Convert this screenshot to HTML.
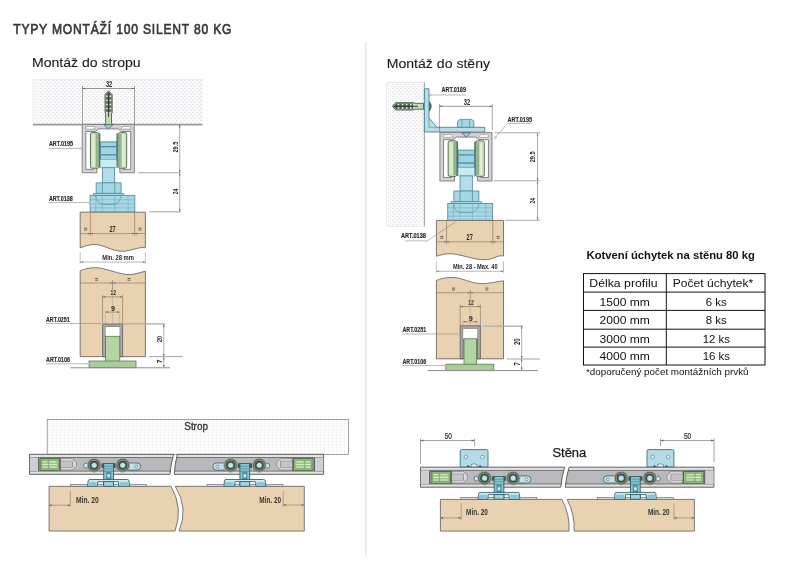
<!DOCTYPE html>
<html><head><meta charset="utf-8">
<style>
html,body{margin:0;padding:0;background:#fff;width:800px;height:572px;overflow:hidden}
svg{display:block;font-family:"Liberation Sans",sans-serif;will-change:transform}
</style></head><body>
<svg width="800" height="572" viewBox="0 0 800 572">
<defs>
<pattern id="dots" width="4" height="4" patternUnits="userSpaceOnUse">
<rect width="4" height="4" fill="#fbfbfb"/>
<rect x="0" y="0" width="1.2" height="1" fill="#e0e0e4"/>
<rect x="2" y="2" width="1.2" height="1" fill="#e0e0e4"/>
</pattern>
<pattern id="grid" width="4" height="3" patternUnits="userSpaceOnUse">
<rect width="4" height="3" fill="#fcfcfc"/>
<rect x="0" y="0" width="1" height="1" fill="#eaeaea"/>
</pattern>
</defs>
<text transform="scale(0.84,1)" x="15.71" y="33.7" font-size="14.4" fill="#3a3a3a" stroke="#3a3a3a" stroke-width="0.7" textLength="259.88" lengthAdjust="spacing">TYPY MONTÁŽÍ 100 SILENT 80 KG</text>
<text x="32.0" y="66.6" font-size="12" fill="#1a1a1a" textLength="108.6" lengthAdjust="spacingAndGlyphs" stroke="#1a1a1a" stroke-width="0.1">Montáž do stropu</text>
<text x="386.7" y="67.8" font-size="12" fill="#1a1a1a" textLength="103.4" lengthAdjust="spacingAndGlyphs" stroke="#1a1a1a" stroke-width="0.1">Montáž do stěny</text>
<line x1="365.8" y1="41.5" x2="365.8" y2="556" stroke="#e2e2e2" stroke-width="1.2"/>
<!-- LEFT TOP -->
<rect x="33" y="79.5" width="169" height="45" fill="url(#dots)" stroke="#e4e4e4" stroke-width="0.6"/>
<line x1="33" y1="124.6" x2="202.5" y2="124.6" stroke="#999999" stroke-width="1.6"/>
<line x1="82.5" y1="86" x2="82.5" y2="124" stroke="#666" stroke-width="0.6"/><line x1="134.5" y1="86" x2="134.5" y2="124" stroke="#666" stroke-width="0.6"/><line x1="82.5" y1="88.5" x2="134.5" y2="88.5" stroke="#555" stroke-width="0.6"/>
<path d="M82.5,88.5 l2.6,-0.8 v1.6z" fill="#555"/><path d="M134.5,88.5 l-2.6,-0.8 v1.6z" fill="#555"/>
<text x="109" y="86.5" font-size="8.8" font-weight="bold" fill="#262626" text-anchor="middle" textLength="6.2" lengthAdjust="spacingAndGlyphs">32</text>
<path d="M108.6,90.8 L112.2,94.5 V112 L111.5,114 V123 L113.5,125.5 H103.7 L105.7,123 V114 L105,112 V94.5 Z" fill="#c5dcb5" stroke="#3d4d3b" stroke-width="0.8"/>
<path d="M108.6,91.6 L111.6,94.8 V111.8 H105.6 V94.8 Z" fill="#56685a"/>
<circle cx="106.9" cy="96.2" r="0.9" fill="#e6efe2"/><circle cx="110.3" cy="96.2" r="0.9" fill="#e6efe2"/>
<circle cx="106.9" cy="100.4" r="0.9" fill="#e6efe2"/><circle cx="110.3" cy="100.4" r="0.9" fill="#e6efe2"/>
<circle cx="106.9" cy="104.5" r="0.9" fill="#e6efe2"/><circle cx="110.3" cy="104.5" r="0.9" fill="#e6efe2"/>
<circle cx="106.9" cy="108.6" r="0.9" fill="#e6efe2"/><circle cx="110.3" cy="108.6" r="0.9" fill="#e6efe2"/>
<line x1="108.6" y1="93.5" x2="108.6" y2="117" stroke="#263026" stroke-width="0.9"/>
<g transform="translate(108.25,124.4)">
<path d="M-26.05,0 H26.05 V48.4 H11.6 V41.1 H14.8 V44.9 H22.5 V7.1 H13 L9.8,4.5 H-9.6 L-12.8,7.1 H-22.4 V44.9 H-14.6 V41.1 H-11.4 V48.4 H-26.05 Z" fill="#d3d3d3" stroke="#7a7a7a" stroke-width="0.9"/>
<path d="M-22.3,2 H-14.6 L-12.6,4.7 H-22.3 Z M22.4,2 H14.7 L12.7,4.7 H22.4 Z" fill="#fff" stroke="#8a8a8a" stroke-width="0.6"/>
<path d="M-4.3,0.2 H4.7 L0.2,4.5 Z" fill="#9fd0dc" stroke="#35505a" stroke-width="0.7"/>
<rect x="-17.8" y="8.2" width="8.6" height="35.6" rx="1.6" fill="#cfe3c0" stroke="#4d6649" stroke-width="0.9"/>
<rect x="-12.600000000000001" y="9.5" width="3" height="33" fill="#93b28d"/>
<rect x="-15.600000000000001" y="10" width="1.8" height="32" fill="#e2efd8"/>
<rect x="9.8" y="8.2" width="8.6" height="35.6" rx="1.6" fill="#cfe3c0" stroke="#4d6649" stroke-width="0.9"/>
<rect x="10.200000000000001" y="9.5" width="3" height="33" fill="#93b28d"/>
<rect x="14.200000000000001" y="10" width="1.8" height="32" fill="#e2efd8"/>
<rect x="-9.3" y="9" width="1.4" height="34" fill="#4f7566"/>
<rect x="8.2" y="9" width="1.4" height="34" fill="#4f7566"/>
<rect x="-7.8" y="17.5" width="16.2" height="17.6" fill="#9fd2e2" stroke="#3f7d8c" stroke-width="0.8"/>
<rect x="-7.8" y="21.6" width="16.2" height="1.3" fill="#4f8d9c"/>
<rect x="-7.8" y="29.8" width="16.2" height="1.3" fill="#4f8d9c"/>
<rect x="-7.8" y="35.1" width="16.2" height="8.2" fill="#c9ecf3" stroke="#7fb2be" stroke-width="0.6"/>
<rect x="-5.9" y="43.3" width="12.3" height="15.2" fill="#b4dde9" stroke="#4a8696" stroke-width="0.8"/>
<path d="M-12.1,58.4 H12.9 V68.9 H-12.1 Z" fill="#a5d6e4" stroke="#4a8696" stroke-width="0.8"/>
<line x1="-5.9" y1="58.4" x2="-5.9" y2="68.9" stroke="#4a8696" stroke-width="0.7"/><line x1="6.5" y1="58.4" x2="6.5" y2="68.9" stroke="#4a8696" stroke-width="0.7"/>
<rect x="-14.8" y="68.9" width="30.4" height="2" fill="#a5d6e4" stroke="#4a8696" stroke-width="0.6"/>
<rect x="-18.2" y="70.9" width="44.8" height="16.8" fill="#a8d8e6" stroke="#4a8696" stroke-width="0.8"/>
<line x1="-18.2" y1="75.3" x2="26.6" y2="75.3" stroke="#72aebd" stroke-width="0.6"/>
<line x1="-18.2" y1="79.3" x2="26.6" y2="79.3" stroke="#72aebd" stroke-width="0.6"/>
<line x1="-18.2" y1="83.5" x2="26.6" y2="83.5" stroke="#72aebd" stroke-width="0.6"/>
<line x1="-12.5" y1="70.9" x2="-12.5" y2="87.7" stroke="#72aebd" stroke-width="0.6"/>
<line x1="-5.9" y1="70.9" x2="-5.9" y2="87.7" stroke="#72aebd" stroke-width="0.6"/>
<line x1="6.5" y1="70.9" x2="6.5" y2="87.7" stroke="#72aebd" stroke-width="0.6"/>
<line x1="19.8" y1="70.9" x2="19.8" y2="87.7" stroke="#72aebd" stroke-width="0.6"/>
<path d="M-12.5,70.9 Q-12,78 -6,80 H6 Q12,78 13,70.9" fill="none" stroke="#4a8696" stroke-width="0.6"/>
</g>
<path d="M80.2,212.2 H145.4 V247.8 C139.4,246.3 130.6,251.3 122.6,251.3 C111.6,251.3 103.5,244.4 94.5,244.4 C88.5,244.4 84.2,246.8 80.2,247.8 Z" fill="#e9d2b2" stroke="#6f6a64" stroke-width="0.9"/>
<line x1="90.4" y1="212.7" x2="90.4" y2="236.1" stroke="#7d6e5c" stroke-width="0.6"/><line x1="134.70000000000002" y1="212.7" x2="134.70000000000002" y2="236.1" stroke="#7d6e5c" stroke-width="0.6"/>
<line x1="80.2" y1="233.6" x2="145.4" y2="233.6" stroke="#7d6e5c" stroke-width="0.6"/>
<path d="M90.4,233.6 l2.6,-0.8 v1.6z" fill="#7d6e5c"/><path d="M134.70000000000002,233.6 l-2.6,-0.8 v1.6z" fill="#7d6e5c"/><path d="M90.4,233.6 l-2.6,-0.8 v1.6z" fill="#7d6e5c"/><path d="M134.70000000000002,233.6 l2.6,-0.8 v1.6z" fill="#7d6e5c"/>
<text x="112.55000000000001" y="231.7" font-size="8.2" font-weight="bold" fill="#262626" text-anchor="middle" textLength="6.2" lengthAdjust="spacingAndGlyphs">27</text>
<path d="M84.10000000000001,228.2 h3 M84.10000000000001,230.0 h3" stroke="#4a4036" stroke-width="0.8"/><path d="M138.55,228.2 h3 M138.55,230.0 h3" stroke="#4a4036" stroke-width="0.8"/>
<line x1="80.2" y1="252.10000000000002" x2="80.2" y2="263.6" stroke="#9a9a9a" stroke-width="0.6"/><line x1="145.4" y1="252.10000000000002" x2="145.4" y2="263.6" stroke="#9a9a9a" stroke-width="0.6"/>
<line x1="80.2" y1="262.1" x2="145.4" y2="262.1" stroke="#8a8a8a" stroke-width="0.6"/>
<path d="M80.2,262.1 l2.6,-0.8 v1.6z" fill="#777"/><path d="M145.4,262.1 l-2.6,-0.8 v1.6z" fill="#777"/>
<text x="118.10000000000001" y="260.0" font-size="7.4" font-weight="bold" fill="#262626" text-anchor="middle" textLength="31.5" lengthAdjust="spacingAndGlyphs">Min. 28 mm</text>
<path d="M80.2,270.7 C84.2,269.2 88.5,267.7 95.5,267.7 C105.5,267.7 118.5,274.6 129.5,274.6 C135.5,274.6 141.4,271.8 145.4,271.3 V356.7 H80.2 Z" fill="#e9d2b2" stroke="#6f6a64" stroke-width="0.9"/>
<line x1="80.2" y1="283.0" x2="145.4" y2="283.0" stroke="#7d6e5c" stroke-width="0.6"/>
<line x1="112.6" y1="280.0" x2="112.6" y2="290.0" stroke="#7d6e5c" stroke-width="0.6"/>
<path d="M112.6,283.0 l2.6,-0.8 v1.6z" fill="#7d6e5c"/><path d="M112.6,283.0 l-2.6,-0.8 v1.6z" fill="#7d6e5c"/>
<path d="M95.10000000000001,278.40000000000003 h3 M95.10000000000001,280.2 h3" stroke="#4a4036" stroke-width="0.8"/><path d="M127.5,278.40000000000003 h3 M127.5,280.2 h3" stroke="#4a4036" stroke-width="0.8"/>
<line x1="102.6" y1="296.9" x2="122.6" y2="296.9" stroke="#7d6e5c" stroke-width="0.6"/>
<path d="M102.6,296.9 l2.6,-0.8 v1.6z" fill="#7d6e5c"/><path d="M122.6,296.9 l-2.6,-0.8 v1.6z" fill="#7d6e5c"/>
<line x1="102.6" y1="294.9" x2="102.6" y2="324.0" stroke="#7d6e5c" stroke-width="0.6"/><line x1="122.6" y1="294.9" x2="122.6" y2="324.0" stroke="#7d6e5c" stroke-width="0.6"/>
<text x="113.3" y="294.9" font-size="7.9" font-weight="bold" fill="#262626" text-anchor="middle" textLength="5.6" lengthAdjust="spacingAndGlyphs">12</text>
<line x1="105.39999999999999" y1="312.09999999999997" x2="119.6" y2="312.09999999999997" stroke="#7d6e5c" stroke-width="0.6"/>
<path d="M105.39999999999999,312.09999999999997 l2.6,-0.8 v1.6z" fill="#7d6e5c"/><path d="M119.6,312.09999999999997 l-2.6,-0.8 v1.6z" fill="#7d6e5c"/>
<line x1="105.39999999999999" y1="310.59999999999997" x2="105.39999999999999" y2="324.0" stroke="#b0a290" stroke-width="0.5"/><line x1="119.6" y1="310.59999999999997" x2="119.6" y2="324.0" stroke="#b0a290" stroke-width="0.5"/>
<line x1="112.6" y1="290.0" x2="112.6" y2="324.0" stroke="#b0a290" stroke-width="0.5"/>
<text x="113.0" y="310.79999999999995" font-size="7.9" font-weight="bold" fill="#262626" text-anchor="middle" textLength="4.0" lengthAdjust="spacingAndGlyphs">9</text>
<path d="M102.6,356.7 V324.0 H122.6 V356.7 H119.6 V327.0 H105.6 V356.7 Z" fill="#a8a8a8" stroke="#5a5a5a" stroke-width="0.8"/>
<rect x="105.6" y="327.0" width="14.0" height="9.300000000000011" fill="#fff"/>
<rect x="105.6" y="336.3" width="14.200000000000003" height="25.19999999999999" fill="#b4d4a6" stroke="#5a7d52" stroke-width="0.8"/>
<rect x="89" y="361" width="47" height="6.699999999999989" fill="#a9cc9a" stroke="#5a7d52" stroke-width="0.8"/>
<line x1="70.5" y1="367.8" x2="170" y2="367.8" stroke="#8c8c8c" stroke-width="1"/>
<line x1="179.7" y1="124.4" x2="179.7" y2="211.8" stroke="#777" stroke-width="0.6"/><line x1="137.9" y1="172.8" x2="181" y2="172.8" stroke="#aaa" stroke-width="1.1"/><line x1="149.2" y1="211.8" x2="181" y2="211.8" stroke="#aaa" stroke-width="1.1"/>
<path d="M179.7,124.6 l-0.8,2.6 h1.6z" fill="#666"/><path d="M179.7,172.6 l-0.8,-2.6 h1.6z" fill="#666"/><path d="M179.7,173 l-0.8,2.6 h1.6z" fill="#666"/><path d="M179.7,211.6 l-0.8,-2.6 h1.6z" fill="#666"/>
<text transform="translate(177.7,147.1) rotate(-90)" font-size="6.8" font-weight="bold" fill="#262626" text-anchor="middle" textLength="11.0" lengthAdjust="spacingAndGlyphs">29.5</text><text transform="translate(177.7,191.5) rotate(-90)" font-size="6.8" font-weight="bold" fill="#262626" text-anchor="middle" textLength="5.4" lengthAdjust="spacingAndGlyphs">24</text>
<line x1="163.8" y1="323.9" x2="163.8" y2="367.7" stroke="#777" stroke-width="0.6"/><line x1="122.6" y1="323.9" x2="165" y2="323.9" stroke="#aaa" stroke-width="1.3"/><line x1="149" y1="356.6" x2="182.5" y2="356.6" stroke="#999" stroke-width="0.9"/>
<path d="M163.8,324.1 l-0.8,2.6 h1.6z" fill="#666"/><path d="M163.8,356.5 l-0.8,-2.6 h1.6z" fill="#666"/><path d="M163.8,356.9 l-0.8,2.6 h1.6z" fill="#666"/><path d="M163.8,367.5 l-0.8,-2.6 h1.6z" fill="#666"/>
<text transform="translate(161.8,338.9) rotate(-90)" font-size="8.1" font-weight="bold" fill="#262626" text-anchor="middle" textLength="6.2" lengthAdjust="spacingAndGlyphs">20</text><text transform="translate(161.6,361.3) rotate(-90)" font-size="8.1" font-weight="bold" fill="#262626" text-anchor="middle" textLength="3.8" lengthAdjust="spacingAndGlyphs">7</text>
<text x="48.9" y="146.2" font-size="7.3" font-weight="bold" fill="#262626" textLength="24.1" lengthAdjust="spacingAndGlyphs" stroke="#2a2a2a" stroke-width="0.15">ART.0195</text><line x1="48.5" y1="148.4" x2="80.5" y2="148.4" stroke="#8a8a8a" stroke-width="0.6"/><circle cx="80.9" cy="148.4" r="0.9" fill="#fff" stroke="#8a8a8a" stroke-width="0.5"/>
<text x="48.9" y="200.8" font-size="7.3" font-weight="bold" fill="#262626" textLength="23.8" lengthAdjust="spacingAndGlyphs" stroke="#2a2a2a" stroke-width="0.15">ART.0138</text><line x1="48.5" y1="202.6" x2="89.2" y2="202.6" stroke="#8a8a8a" stroke-width="0.6"/><circle cx="89.60000000000001" cy="202.6" r="0.9" fill="#fff" stroke="#8a8a8a" stroke-width="0.5"/>
<text x="46" y="322" font-size="7.3" font-weight="bold" fill="#262626" textLength="23.8" lengthAdjust="spacingAndGlyphs" stroke="#2a2a2a" stroke-width="0.15">ART.0251</text><line x1="46" y1="323.5" x2="101.6" y2="323.5" stroke="#8a8a8a" stroke-width="0.6"/><circle cx="102.0" cy="323.5" r="0.9" fill="#fff" stroke="#8a8a8a" stroke-width="0.5"/>
<text x="46" y="362" font-size="7.3" font-weight="bold" fill="#262626" textLength="24" lengthAdjust="spacingAndGlyphs" stroke="#2a2a2a" stroke-width="0.15">ART.0106</text><line x1="46" y1="363.8" x2="88.2" y2="363.8" stroke="#8a8a8a" stroke-width="0.6"/><circle cx="88.60000000000001" cy="363.8" r="0.9" fill="#fff" stroke="#8a8a8a" stroke-width="0.5"/>
<!-- RIGHT TOP -->
<rect x="386.7" y="82.3" width="37.6" height="144.2" fill="url(#dots)" stroke="#e0e0e0" stroke-width="0.6"/>
<line x1="424.4" y1="82.3" x2="424.4" y2="226.5" stroke="#a8a8a8" stroke-width="1.2"/>
<path d="M392.2,106.3 L396,102.6 H413 L415,103.4 H423.5 V109.2 H415 L413,110 H396 Z" fill="#c5dcb5" stroke="#3d4d3b" stroke-width="0.8"/>
<path d="M392.9,106.3 L396.2,103.2 H413 V109.4 H396.2 Z" fill="#56685a"/>
<circle cx="398.5" cy="104.6" r="0.9" fill="#e6efe2"/><circle cx="398.5" cy="108" r="0.9" fill="#e6efe2"/>
<circle cx="402.6" cy="104.6" r="0.9" fill="#e6efe2"/><circle cx="402.6" cy="108" r="0.9" fill="#e6efe2"/>
<circle cx="406.7" cy="104.6" r="0.9" fill="#e6efe2"/><circle cx="406.7" cy="108" r="0.9" fill="#e6efe2"/>
<circle cx="410.8" cy="104.6" r="0.9" fill="#e6efe2"/><circle cx="410.8" cy="108" r="0.9" fill="#e6efe2"/>
<line x1="394.5" y1="106.3" x2="418" y2="106.3" stroke="#263026" stroke-width="0.9"/>
<path d="M429,101.3 Q433.4,106.3 429,111.3 Z" fill="#5f7f88" stroke="#2a3a40" stroke-width="0.8"/>
<path d="M424.4,88.8 H429 V118 L437,127.3 H484.8 V132 H424.4 Z" fill="#b8dde8" stroke="#4a8696" stroke-width="0.9"/>
<line x1="429" y1="118" x2="429" y2="127.3" stroke="#4a8696" stroke-width="0.6"/><line x1="429" y1="127.3" x2="437" y2="127.3" stroke="#4a8696" stroke-width="0.6"/>
<path d="M457.6,127.3 V121 L460,119.4 H471.4 L473.8,121 V127.3 Z" fill="#a5d6e4" stroke="#4a8696" stroke-width="0.8"/>
<line x1="462" y1="119.6" x2="462" y2="127.3" stroke="#4a8696" stroke-width="0.6"/><line x1="469.4" y1="119.6" x2="469.4" y2="127.3" stroke="#4a8696" stroke-width="0.6"/>
<text x="441.5" y="92" font-size="7.3" font-weight="bold" fill="#262626" textLength="24.5" lengthAdjust="spacingAndGlyphs" stroke="#2a2a2a" stroke-width="0.15">ART.0189</text>
<line x1="431" y1="95" x2="466" y2="95" stroke="#8a8a8a" stroke-width="0.6"/><circle cx="430.5" cy="95" r="0.9" fill="#fff" stroke="#8a8a8a" stroke-width="0.5"/>
<line x1="439.4" y1="104" x2="439.4" y2="132" stroke="#666" stroke-width="0.6"/><line x1="492.3" y1="104" x2="492.3" y2="130" stroke="#666" stroke-width="0.6"/><line x1="439.4" y1="106.3" x2="492.3" y2="106.3" stroke="#555" stroke-width="0.6"/>
<path d="M439.4,106.3 l2.6,-0.8 v1.6z" fill="#555"/><path d="M492.3,106.3 l-2.6,-0.8 v1.6z" fill="#555"/>
<text x="467" y="104.7" font-size="8.2" font-weight="bold" fill="#262626" text-anchor="middle" textLength="6.3" lengthAdjust="spacingAndGlyphs">32</text>
<text x="507.6" y="121.9" font-size="7.3" font-weight="bold" fill="#262626" textLength="24.4" lengthAdjust="spacingAndGlyphs" stroke="#2a2a2a" stroke-width="0.15">ART.0195</text>
<path d="M532,123.3 H507.6 L495.8,137" fill="none" stroke="#8a8a8a" stroke-width="0.6"/><circle cx="495.3" cy="137.6" r="0.9" fill="#fff" stroke="#8a8a8a" stroke-width="0.5"/>
<g transform="translate(465.95,132.6)">
<path d="M-26.05,0 H26.05 V48.4 H11.6 V41.1 H14.8 V44.9 H22.5 V7.1 H13 L9.8,4.5 H-9.6 L-12.8,7.1 H-22.4 V44.9 H-14.6 V41.1 H-11.4 V48.4 H-26.05 Z" fill="#d3d3d3" stroke="#7a7a7a" stroke-width="0.9"/>
<path d="M-22.3,2 H-14.6 L-12.6,4.7 H-22.3 Z M22.4,2 H14.7 L12.7,4.7 H22.4 Z" fill="#fff" stroke="#8a8a8a" stroke-width="0.6"/>
<path d="M-4.3,0.2 H4.7 L0.2,4.5 Z" fill="#9fd0dc" stroke="#35505a" stroke-width="0.7"/>
<rect x="-17.8" y="8.2" width="8.6" height="35.6" rx="1.6" fill="#cfe3c0" stroke="#4d6649" stroke-width="0.9"/>
<rect x="-12.600000000000001" y="9.5" width="3" height="33" fill="#93b28d"/>
<rect x="-15.600000000000001" y="10" width="1.8" height="32" fill="#e2efd8"/>
<rect x="9.8" y="8.2" width="8.6" height="35.6" rx="1.6" fill="#cfe3c0" stroke="#4d6649" stroke-width="0.9"/>
<rect x="10.200000000000001" y="9.5" width="3" height="33" fill="#93b28d"/>
<rect x="14.200000000000001" y="10" width="1.8" height="32" fill="#e2efd8"/>
<rect x="-9.3" y="9" width="1.4" height="34" fill="#4f7566"/>
<rect x="8.2" y="9" width="1.4" height="34" fill="#4f7566"/>
<rect x="-7.8" y="17.5" width="16.2" height="17.6" fill="#9fd2e2" stroke="#3f7d8c" stroke-width="0.8"/>
<rect x="-7.8" y="21.6" width="16.2" height="1.3" fill="#4f8d9c"/>
<rect x="-7.8" y="29.8" width="16.2" height="1.3" fill="#4f8d9c"/>
<rect x="-7.8" y="35.1" width="16.2" height="8.2" fill="#c9ecf3" stroke="#7fb2be" stroke-width="0.6"/>
<rect x="-5.9" y="43.3" width="12.3" height="15.2" fill="#b4dde9" stroke="#4a8696" stroke-width="0.8"/>
<path d="M-12.1,58.4 H12.9 V68.9 H-12.1 Z" fill="#a5d6e4" stroke="#4a8696" stroke-width="0.8"/>
<line x1="-5.9" y1="58.4" x2="-5.9" y2="68.9" stroke="#4a8696" stroke-width="0.7"/><line x1="6.5" y1="58.4" x2="6.5" y2="68.9" stroke="#4a8696" stroke-width="0.7"/>
<rect x="-14.8" y="68.9" width="30.4" height="2" fill="#a5d6e4" stroke="#4a8696" stroke-width="0.6"/>
<rect x="-18.2" y="70.9" width="44.8" height="16.8" fill="#a8d8e6" stroke="#4a8696" stroke-width="0.8"/>
<line x1="-18.2" y1="75.3" x2="26.6" y2="75.3" stroke="#72aebd" stroke-width="0.6"/>
<line x1="-18.2" y1="79.3" x2="26.6" y2="79.3" stroke="#72aebd" stroke-width="0.6"/>
<line x1="-18.2" y1="83.5" x2="26.6" y2="83.5" stroke="#72aebd" stroke-width="0.6"/>
<line x1="-12.5" y1="70.9" x2="-12.5" y2="87.7" stroke="#72aebd" stroke-width="0.6"/>
<line x1="-5.9" y1="70.9" x2="-5.9" y2="87.7" stroke="#72aebd" stroke-width="0.6"/>
<line x1="6.5" y1="70.9" x2="6.5" y2="87.7" stroke="#72aebd" stroke-width="0.6"/>
<line x1="19.8" y1="70.9" x2="19.8" y2="87.7" stroke="#72aebd" stroke-width="0.6"/>
<path d="M-12.5,70.9 Q-12,78 -6,80 H6 Q12,78 13,70.9" fill="none" stroke="#4a8696" stroke-width="0.6"/>
</g>
<path d="M436.4,220.4 H503.5 V256.0 C497.5,254.5 493,259.8 485,259.8 C474,259.8 459,253.7 450,253.7 C444,253.7 440.4,255.2 436.4,256.2 Z" fill="#e9d2b2" stroke="#6f6a64" stroke-width="0.9"/>
<line x1="446.59999999999997" y1="220.9" x2="446.59999999999997" y2="244.3" stroke="#7d6e5c" stroke-width="0.6"/><line x1="492.8" y1="220.9" x2="492.8" y2="244.3" stroke="#7d6e5c" stroke-width="0.6"/>
<line x1="436.4" y1="241.8" x2="503.5" y2="241.8" stroke="#7d6e5c" stroke-width="0.6"/>
<path d="M446.59999999999997,241.8 l2.6,-0.8 v1.6z" fill="#7d6e5c"/><path d="M492.8,241.8 l-2.6,-0.8 v1.6z" fill="#7d6e5c"/><path d="M446.59999999999997,241.8 l-2.6,-0.8 v1.6z" fill="#7d6e5c"/><path d="M492.8,241.8 l2.6,-0.8 v1.6z" fill="#7d6e5c"/>
<text x="469.7" y="239.9" font-size="8.2" font-weight="bold" fill="#262626" text-anchor="middle" textLength="6.2" lengthAdjust="spacingAndGlyphs">27</text>
<path d="M440.3,236.4 h3 M440.3,238.20000000000002 h3" stroke="#4a4036" stroke-width="0.8"/><path d="M496.65,236.4 h3 M496.65,238.20000000000002 h3" stroke="#4a4036" stroke-width="0.8"/>
<line x1="436.4" y1="261.3" x2="436.4" y2="272.8" stroke="#9a9a9a" stroke-width="0.6"/><line x1="503.5" y1="261.3" x2="503.5" y2="272.8" stroke="#9a9a9a" stroke-width="0.6"/>
<line x1="436.4" y1="271.3" x2="503.5" y2="271.3" stroke="#8a8a8a" stroke-width="0.6"/>
<path d="M436.4,271.3 l2.6,-0.8 v1.6z" fill="#777"/><path d="M503.5,271.3 l-2.6,-0.8 v1.6z" fill="#777"/>
<text x="475.25" y="269.2" font-size="7.4" font-weight="bold" fill="#262626" text-anchor="middle" textLength="44.6" lengthAdjust="spacingAndGlyphs">Min. 28 - Max. 40</text>
<path d="M436.4,280.4 C440.4,278.9 445,277.4 452,277.4 C462,277.4 471,283.7 482,283.7 C488,283.7 499.5,281.3 503.5,280.8 V358.8 H436.4 Z" fill="#e9d2b2" stroke="#6f6a64" stroke-width="0.9"/>
<line x1="436.4" y1="292.7" x2="503.5" y2="292.7" stroke="#7d6e5c" stroke-width="0.6"/>
<line x1="470.29999999999995" y1="289.7" x2="470.29999999999995" y2="299.7" stroke="#7d6e5c" stroke-width="0.6"/>
<path d="M470.29999999999995,292.7 l2.6,-0.8 v1.6z" fill="#7d6e5c"/><path d="M470.29999999999995,292.7 l-2.6,-0.8 v1.6z" fill="#7d6e5c"/>
<path d="M452.04999999999995,288.1 h3 M452.04999999999995,289.9 h3" stroke="#4a4036" stroke-width="0.8"/><path d="M485.4,288.1 h3 M485.4,289.9 h3" stroke="#4a4036" stroke-width="0.8"/>
<line x1="460.2" y1="306.59999999999997" x2="480.4" y2="306.59999999999997" stroke="#7d6e5c" stroke-width="0.6"/>
<path d="M460.2,306.59999999999997 l2.6,-0.8 v1.6z" fill="#7d6e5c"/><path d="M480.4,306.59999999999997 l-2.6,-0.8 v1.6z" fill="#7d6e5c"/>
<line x1="460.2" y1="304.59999999999997" x2="460.2" y2="325.8" stroke="#7d6e5c" stroke-width="0.6"/><line x1="480.4" y1="304.59999999999997" x2="480.4" y2="325.8" stroke="#7d6e5c" stroke-width="0.6"/>
<text x="470.99999999999994" y="304.59999999999997" font-size="7.9" font-weight="bold" fill="#262626" text-anchor="middle" textLength="5.6" lengthAdjust="spacingAndGlyphs">12</text>
<line x1="463.0" y1="321.79999999999995" x2="477.4" y2="321.79999999999995" stroke="#7d6e5c" stroke-width="0.6"/>
<path d="M463.0,321.79999999999995 l2.6,-0.8 v1.6z" fill="#7d6e5c"/><path d="M477.4,321.79999999999995 l-2.6,-0.8 v1.6z" fill="#7d6e5c"/>
<line x1="463.0" y1="320.29999999999995" x2="463.0" y2="325.8" stroke="#b0a290" stroke-width="0.5"/><line x1="477.4" y1="320.29999999999995" x2="477.4" y2="325.8" stroke="#b0a290" stroke-width="0.5"/>
<line x1="470.29999999999995" y1="299.7" x2="470.29999999999995" y2="325.8" stroke="#b0a290" stroke-width="0.5"/>
<text x="470.69999999999993" y="320.49999999999994" font-size="7.9" font-weight="bold" fill="#262626" text-anchor="middle" textLength="4.0" lengthAdjust="spacingAndGlyphs">9</text>
<path d="M460.2,358.8 V325.8 H480.4 V358.8 H477.4 V328.8 H463.2 V358.8 Z" fill="#a8a8a8" stroke="#5a5a5a" stroke-width="0.8"/>
<rect x="463.2" y="328.8" width="14.199999999999989" height="10.0" fill="#fff"/>
<rect x="464.0" y="338.8" width="12.600000000000023" height="25.899999999999977" fill="#b4d4a6" stroke="#5a7d52" stroke-width="0.8"/>
<rect x="445.8" y="364.2" width="48.0" height="6.199999999999989" fill="#a9cc9a" stroke="#5a7d52" stroke-width="0.8"/>
<line x1="427.5" y1="370.6" x2="538" y2="370.6" stroke="#8c8c8c" stroke-width="1"/>
<text x="401" y="238" font-size="7.3" font-weight="bold" fill="#262626" textLength="25" lengthAdjust="spacingAndGlyphs" stroke="#2a2a2a" stroke-width="0.15">ART.0138</text>
<path d="M405,240.9 H427 L454.5,222.6" fill="none" stroke="#8a8a8a" stroke-width="0.6"/><circle cx="455" cy="222.2" r="0.9" fill="#fff" stroke="#8a8a8a" stroke-width="0.5"/>
<text x="402.5" y="331.6" font-size="7.3" font-weight="bold" fill="#262626" textLength="23.7" lengthAdjust="spacingAndGlyphs" stroke="#2a2a2a" stroke-width="0.15">ART.0251</text><line x1="402.5" y1="334" x2="457" y2="334" stroke="#8a8a8a" stroke-width="0.6"/><circle cx="457.4" cy="334" r="0.9" fill="#fff" stroke="#8a8a8a" stroke-width="0.5"/>
<text x="402.5" y="364.2" font-size="7.3" font-weight="bold" fill="#262626" textLength="23.7" lengthAdjust="spacingAndGlyphs" stroke="#2a2a2a" stroke-width="0.15">ART.0106</text><line x1="402.5" y1="365.6" x2="444.8" y2="365.6" stroke="#8a8a8a" stroke-width="0.6"/><circle cx="445.2" cy="365.6" r="0.9" fill="#fff" stroke="#8a8a8a" stroke-width="0.5"/>
<line x1="537.5" y1="132.7" x2="537.5" y2="220.2" stroke="#777" stroke-width="0.6"/><line x1="495" y1="132.7" x2="540" y2="132.7" stroke="#aaa" stroke-width="1.1"/><line x1="494" y1="180.8" x2="540" y2="180.8" stroke="#aaa" stroke-width="1.1"/><line x1="505" y1="220.2" x2="540" y2="220.2" stroke="#aaa" stroke-width="1.1"/>
<path d="M537.5,132.9 l-0.8,2.6 h1.6z" fill="#666"/><path d="M537.5,180.6 l-0.8,-2.6 h1.6z" fill="#666"/><path d="M537.5,181 l-0.8,2.6 h1.6z" fill="#666"/><path d="M537.5,220 l-0.8,-2.6 h1.6z" fill="#666"/>
<text transform="translate(535.2,156.8) rotate(-90)" font-size="6.8" font-weight="bold" fill="#262626" text-anchor="middle" textLength="11.0" lengthAdjust="spacingAndGlyphs">29.5</text><text transform="translate(535.2,200.8) rotate(-90)" font-size="6.8" font-weight="bold" fill="#262626" text-anchor="middle" textLength="5.4" lengthAdjust="spacingAndGlyphs">24</text>
<line x1="521.7" y1="325.8" x2="521.7" y2="370.4" stroke="#777" stroke-width="0.6"/><line x1="483" y1="326.2" x2="523" y2="326.2" stroke="#aaa" stroke-width="1.3"/><line x1="507" y1="359" x2="540" y2="359" stroke="#999" stroke-width="0.9"/>
<path d="M521.7,326 l-0.8,2.6 h1.6z" fill="#666"/><path d="M521.7,358.6 l-0.8,-2.6 h1.6z" fill="#666"/><path d="M521.7,359 l-0.8,2.6 h1.6z" fill="#666"/><path d="M521.7,370.2 l-0.8,-2.6 h1.6z" fill="#666"/>
<text transform="translate(519.7,341.7) rotate(-90)" font-size="8.6" font-weight="bold" fill="#262626" text-anchor="middle" textLength="6.7" lengthAdjust="spacingAndGlyphs">20</text><text transform="translate(519.5,364) rotate(-90)" font-size="8.6" font-weight="bold" fill="#262626" text-anchor="middle" textLength="3.6" lengthAdjust="spacingAndGlyphs">7</text>
<!-- TABLE -->
<text x="586.6" y="258.8" font-size="11.2" font-weight="bold" fill="#111" textLength="168.2" lengthAdjust="spacingAndGlyphs">Kotvení úchytek na stěnu 80 kg</text>
<g stroke="#111" stroke-width="1" fill="none"><rect x="583.5" y="273.6" width="181.5" height="91.4"/><line x1="666.3" y1="273.6" x2="666.3" y2="365" stroke="#111" stroke-width="1"/><line x1="583.5" y1="292.1" x2="765" y2="292.1" stroke="#111" stroke-width="1"/><line x1="583.5" y1="310.4" x2="765" y2="310.4" stroke="#111" stroke-width="1"/><line x1="583.5" y1="329.2" x2="765" y2="329.2" stroke="#111" stroke-width="1"/><line x1="583.5" y1="347.1" x2="765" y2="347.1" stroke="#111" stroke-width="1"/></g>
<text x="623.4" y="286.9" font-size="11.4" fill="#111" text-anchor="middle" textLength="68.2" lengthAdjust="spacingAndGlyphs">Délka profilu</text>
<text x="713" y="286.9" font-size="11.4" fill="#111" text-anchor="middle" textLength="80.6" lengthAdjust="spacingAndGlyphs">Počet úchytek*</text>
<text x="624.7" y="305.7" font-size="11.4" fill="#111" text-anchor="middle" textLength="50.4" lengthAdjust="spacingAndGlyphs">1500 mm</text>
<text x="716.3" y="305.7" font-size="11.4" fill="#111" text-anchor="middle">6 ks</text>
<text x="624.7" y="324" font-size="11.4" fill="#111" text-anchor="middle" textLength="50.4" lengthAdjust="spacingAndGlyphs">2000 mm</text>
<text x="716.3" y="324" font-size="11.4" fill="#111" text-anchor="middle">8 ks</text>
<text x="624.7" y="342.5" font-size="11.4" fill="#111" text-anchor="middle" textLength="50.4" lengthAdjust="spacingAndGlyphs">3000 mm</text>
<text x="716.3" y="342.5" font-size="11.4" fill="#111" text-anchor="middle">12 ks</text>
<text x="624.7" y="360.3" font-size="11.4" fill="#111" text-anchor="middle" textLength="50.4" lengthAdjust="spacingAndGlyphs">4000 mm</text>
<text x="716.3" y="360.3" font-size="11.4" fill="#111" text-anchor="middle">16 ks</text>
<text x="586.0" y="375" font-size="9.6" fill="#111" textLength="162.6" lengthAdjust="spacingAndGlyphs">*doporučený počet montážních prvků</text>
<!-- ===== BOTTOM LEFT: ceiling long view ===== -->
<rect x="47.2" y="419.4" width="301.2" height="35" fill="url(#grid)" stroke="#8a8a8a" stroke-width="0.8"/>
<text x="184.3" y="430.4" font-size="10" fill="#3a3a3a" stroke="#3a3a3a" stroke-width="0.35" textLength="23.6" lengthAdjust="spacingAndGlyphs">Strop</text>
<clipPath id="rl0"><path d="M29.5,454.3 H173.6 Q170.75,464.3 169.9,474.3 H29.5 Q29.5,464.3 29.5,454.3 Z"/></clipPath>
<g clip-path="url(#rl0)">
<rect x="27.5" y="454.3" width="148.1" height="20" fill="#e4e4e6"/>
<rect x="27.5" y="457.5" width="148.1" height="13.6" fill="#b9b9bd"/>
<line x1="27.5" y1="457.5" x2="175.6" y2="457.5" stroke="#6a6a6a" stroke-width="0.9"/>
<line x1="27.5" y1="471.1" x2="175.6" y2="471.1" stroke="#6a6a6a" stroke-width="0.9"/>
</g>
<path d="M29.5,454.3 H173.6 Q170.75,464.3 169.9,474.3 H29.5 Q29.5,464.3 29.5,454.3 Z" fill="none" stroke="#5f5f5f" stroke-width="1"/>
<clipPath id="rl1"><path d="M177.3,454.3 H323.6 Q323.6,464.3 323.6,474.3 H174.3 Q174.8,464.3 177.3,454.3 Z"/></clipPath>
<g clip-path="url(#rl1)">
<rect x="172.3" y="454.3" width="153.3" height="20" fill="#e4e4e6"/>
<rect x="172.3" y="457.5" width="153.3" height="13.6" fill="#b9b9bd"/>
<line x1="172.3" y1="457.5" x2="325.6" y2="457.5" stroke="#6a6a6a" stroke-width="0.9"/>
<line x1="172.3" y1="471.1" x2="325.6" y2="471.1" stroke="#6a6a6a" stroke-width="0.9"/>
</g>
<path d="M177.3,454.3 H323.6 Q323.6,464.3 323.6,474.3 H174.3 Q174.8,464.3 177.3,454.3 Z" fill="none" stroke="#5f5f5f" stroke-width="1"/>
<g transform="translate(29.5,454.3)">
<rect x="0.3" y="3.2" width="8.8" height="13.6" fill="#cfcfd2"/>
<line x1="9.2" y1="3.2" x2="9.2" y2="16.8" stroke="#555" stroke-width="1"/>
<rect x="10.6" y="4.3" width="19.6" height="11.7" fill="#b4d4a2" stroke="#3f663f" stroke-width="0.9"/>
<rect x="12" y="5.6" width="16.8" height="9.1" fill="#98c286" stroke="#5f8a55" stroke-width="0.5"/>
<path d="M13,7.6 H17.5 M20,7.6 H27 M13,10.2 H27.5 M13,12.8 H18 M20,12.8 H27.5" stroke="#d6ebc6" stroke-width="1.1"/>
<path d="M19,5.6 V14.7" stroke="#7ea070" stroke-width="0.6"/>
<line x1="30.9" y1="4" x2="30.9" y2="16.4" stroke="#555" stroke-width="0.9"/>
<path d="M31.4,4.2 H42 Q44,4.2 44.5,6 L47,8 V12 L44.5,14 Q44,15.8 42,15.8 H31.4 V13 H43 V7 H31.4 Z" fill="#d6d6d8" stroke="#777" stroke-width="0.6"/>
<rect x="31.4" y="7.2" width="11" height="5.6" fill="#c4c4c8"/>
</g>
<g transform="translate(323.6,454.3) scale(-1,1)">
<rect x="0.3" y="3.2" width="8.8" height="13.6" fill="#cfcfd2"/>
<line x1="9.2" y1="3.2" x2="9.2" y2="16.8" stroke="#555" stroke-width="1"/>
<rect x="10.6" y="4.3" width="19.6" height="11.7" fill="#b4d4a2" stroke="#3f663f" stroke-width="0.9"/>
<rect x="12" y="5.6" width="16.8" height="9.1" fill="#98c286" stroke="#5f8a55" stroke-width="0.5"/>
<path d="M13,7.6 H17.5 M20,7.6 H27 M13,10.2 H27.5 M13,12.8 H18 M20,12.8 H27.5" stroke="#d6ebc6" stroke-width="1.1"/>
<path d="M19,5.6 V14.7" stroke="#7ea070" stroke-width="0.6"/>
<line x1="30.9" y1="4" x2="30.9" y2="16.4" stroke="#555" stroke-width="0.9"/>
<path d="M31.4,4.2 H42 Q44,4.2 44.5,6 L47,8 V12 L44.5,14 Q44,15.8 42,15.8 H31.4 V13 H43 V7 H31.4 Z" fill="#d6d6d8" stroke="#777" stroke-width="0.6"/>
<rect x="31.4" y="7.2" width="11" height="5.6" fill="#c4c4c8"/>
</g>
<path d="M49.1,486.3 H171 Q183.60000000000002,508.65 175,531 H49.1 Q49.1,508.65 49.1,486.3 Z" fill="#e9d2b2" stroke="#6f6a64" stroke-width="0.9"/>
<path d="M175.3,486.3 H304.3 Q304.3,508.65 304.3,531 H179 Q188.85,508.65 175.3,486.3 Z" fill="#e9d2b2" stroke="#6f6a64" stroke-width="0.9"/>
<rect x="70.45" y="484.3" width="76" height="2" fill="#d8d8d8" stroke="#666" stroke-width="0.6"/>
<rect x="207" y="484.3" width="76" height="2" fill="#d8d8d8" stroke="#666" stroke-width="0.6"/>
<g transform="translate(108.45,454.3)">
<path d="M14,8.7 H28.6 a3.55,3.55 0 0 1 0,7.1 H14 Z" fill="#c3e0e8" stroke="#34606c" stroke-width="0.8"/>
<circle cx="27.7" cy="12.25" r="1.35" fill="#fff" stroke="#34606c" stroke-width="0.6"/>
<rect x="-24.6" y="9.2" width="5" height="4.4" rx="1.6" fill="#d8e8ec" stroke="#34606c" stroke-width="0.7"/>
<rect x="-7.2" y="9" width="3" height="4.6" rx="1" fill="#3f5a5a"/>
<rect x="4.6" y="9" width="3" height="4.6" rx="1" fill="#3f5a5a"/>
<rect x="-4.7" y="9.2" width="9.75" height="22" fill="#86c6d4" stroke="#27525c" stroke-width="0.8"/>
<path d="M-4.7,12 h9.75 M-4.7,14.5 h9.75 M-4.7,17 h9.75" stroke="#3f7f8c" stroke-width="0.6"/>
<rect x="-2.4" y="17.5" width="5.2" height="9" fill="#2f6470" opacity="0.55"/>
<rect x="-1.2" y="20" width="2.6" height="3" fill="#c9eef4"/>
<circle cx="-14.3" cy="10.95" r="6.9" fill="#56665c" stroke="#b3ae8c" stroke-width="0.9"/>
<circle cx="-14.3" cy="10.95" r="5.0" fill="#3c4b43" stroke="#a3b3a6" stroke-width="0.7"/>
<circle cx="-14.3" cy="10.95" r="2.6" fill="#c2e6ec" stroke="#6f9aa0" stroke-width="0.4"/>
<circle cx="14.3" cy="10.95" r="6.9" fill="#56665c" stroke="#b3ae8c" stroke-width="0.9"/>
<circle cx="14.3" cy="10.95" r="5.0" fill="#3c4b43" stroke="#a3b3a6" stroke-width="0.7"/>
<circle cx="14.3" cy="10.95" r="2.6" fill="#c2e6ec" stroke="#6f9aa0" stroke-width="0.4"/>
<path d="M-20.9,31.9 L-20.3,26.6 Q-20,25.2 -18.6,25.2 H19 Q20.4,25.2 20.6,26.6 L21,31.9 H10.4 L10,27.4 H-10.6 L-11,31.9 Z" fill="#cfe7ee" stroke="#27525c" stroke-width="0.8"/>
<path d="M-20.2,31.7 L-19.6,27.6 H-11.6 L-12,31.7 Z M20.4,31.7 L19.8,27.6 H11.4 L11.6,31.7 Z" fill="#86c8d6"/>
<rect x="-4.7" y="27.4" width="9.75" height="4.5" fill="#9fd4e0" stroke="#27525c" stroke-width="0.7"/>
</g>
<g transform="translate(245,454.3) scale(-1,1)">
<path d="M14,8.7 H28.6 a3.55,3.55 0 0 1 0,7.1 H14 Z" fill="#c3e0e8" stroke="#34606c" stroke-width="0.8"/>
<circle cx="27.7" cy="12.25" r="1.35" fill="#fff" stroke="#34606c" stroke-width="0.6"/>
<rect x="-24.6" y="9.2" width="5" height="4.4" rx="1.6" fill="#d8e8ec" stroke="#34606c" stroke-width="0.7"/>
<rect x="-7.2" y="9" width="3" height="4.6" rx="1" fill="#3f5a5a"/>
<rect x="4.6" y="9" width="3" height="4.6" rx="1" fill="#3f5a5a"/>
<rect x="-4.7" y="9.2" width="9.75" height="22" fill="#86c6d4" stroke="#27525c" stroke-width="0.8"/>
<path d="M-4.7,12 h9.75 M-4.7,14.5 h9.75 M-4.7,17 h9.75" stroke="#3f7f8c" stroke-width="0.6"/>
<rect x="-2.4" y="17.5" width="5.2" height="9" fill="#2f6470" opacity="0.55"/>
<rect x="-1.2" y="20" width="2.6" height="3" fill="#c9eef4"/>
<circle cx="-14.3" cy="10.95" r="6.9" fill="#56665c" stroke="#b3ae8c" stroke-width="0.9"/>
<circle cx="-14.3" cy="10.95" r="5.0" fill="#3c4b43" stroke="#a3b3a6" stroke-width="0.7"/>
<circle cx="-14.3" cy="10.95" r="2.6" fill="#c2e6ec" stroke="#6f9aa0" stroke-width="0.4"/>
<circle cx="14.3" cy="10.95" r="6.9" fill="#56665c" stroke="#b3ae8c" stroke-width="0.9"/>
<circle cx="14.3" cy="10.95" r="5.0" fill="#3c4b43" stroke="#a3b3a6" stroke-width="0.7"/>
<circle cx="14.3" cy="10.95" r="2.6" fill="#c2e6ec" stroke="#6f9aa0" stroke-width="0.4"/>
<path d="M-20.9,31.9 L-20.3,26.6 Q-20,25.2 -18.6,25.2 H19 Q20.4,25.2 20.6,26.6 L21,31.9 H10.4 L10,27.4 H-10.6 L-11,31.9 Z" fill="#cfe7ee" stroke="#27525c" stroke-width="0.8"/>
<path d="M-20.2,31.7 L-19.6,27.6 H-11.6 L-12,31.7 Z M20.4,31.7 L19.8,27.6 H11.4 L11.6,31.7 Z" fill="#86c8d6"/>
<rect x="-4.7" y="27.4" width="9.75" height="4.5" fill="#9fd4e0" stroke="#27525c" stroke-width="0.7"/>
</g>
<text x="76" y="503" font-size="8.4" font-weight="bold" fill="#3a3530" textLength="22.7" lengthAdjust="spacingAndGlyphs">Min. 20</text>
<line x1="70.3" y1="491" x2="70.3" y2="507.0" stroke="#8a7a66" stroke-width="0.6"/>
<line x1="70.3" y1="505.2" x2="49.1" y2="505.2" stroke="#8a7a66" stroke-width="0.6"/>
<path d="M70.3,505.2 l-2.6,-0.8 v1.6z M49.1,505.2 l2.6,-0.8 v1.6z" fill="#5a4e40"/>
<text x="259.3" y="503" font-size="8.4" font-weight="bold" fill="#3a3530" textLength="21.7" lengthAdjust="spacingAndGlyphs">Min. 20</text>
<line x1="283.2" y1="491" x2="283.2" y2="506.8" stroke="#8a7a66" stroke-width="0.6"/>
<line x1="283.2" y1="505" x2="304.3" y2="505" stroke="#8a7a66" stroke-width="0.6"/>
<path d="M283.2,505 l2.6,-0.8 v1.6z M304.3,505 l-2.6,-0.8 v1.6z" fill="#5a4e40"/>
<!-- ===== BOTTOM RIGHT: wall long view ===== -->
<g stroke="#666" stroke-width="0.6"><line x1="420.5" y1="438.5" x2="420.5" y2="464"/><line x1="474.6" y1="438.5" x2="474.6" y2="446"/><line x1="420.5" y1="440.5" x2="474.6" y2="440.5"/></g>
<path d="M420.5,440.5 l3,-1 v2z M474.6,440.5 l-3,-1 v2z" fill="#666"/>
<text x="448.3" y="438.7" font-size="8.5" fill="#2a2a2a" stroke="#2a2a2a" stroke-width="0.2" text-anchor="middle" textLength="7.3" lengthAdjust="spacingAndGlyphs">50</text>
<g stroke="#666" stroke-width="0.6"><line x1="660.5" y1="438.5" x2="660.5" y2="446"/><line x1="714" y1="438.5" x2="714" y2="462"/><line x1="660.5" y1="440.5" x2="714" y2="440.5"/></g>
<path d="M660.5,440.5 l3,-1 v2z M714,440.5 l-3,-1 v2z" fill="#666"/>
<text x="687.6" y="438.7" font-size="8.5" fill="#2a2a2a" stroke="#2a2a2a" stroke-width="0.2" text-anchor="middle" textLength="7.3" lengthAdjust="spacingAndGlyphs">50</text>
<text x="552.4" y="456.75" font-size="12" fill="#1a1a1a" stroke="#1a1a1a" stroke-width="0.25" textLength="33.9" lengthAdjust="spacingAndGlyphs">Stěna</text>
<path d="M460.2,467.2 V451.1 Q460.2,449.6 461.7,449.6 H486.5 Q488,449.6 488,451.1 V467.2 Z" fill="#b3dbe7" stroke="#3f6f7c" stroke-width="0.9"/>
<circle cx="465.8" cy="457.0" r="1.7" fill="#fff" stroke="#3f6f7c" stroke-width="0.6"/>
<circle cx="482.4" cy="457.0" r="1.7" fill="#fff" stroke="#3f6f7c" stroke-width="0.6"/>
<path d="M466.1,467.2 L468.1,464.7 L470.1,467.2 Z M482.1,467.2 L480.1,464.7 L478.1,467.2 Z" fill="#2f5f6c"/>
<path d="M471.1,467.2 V464.7 Q474.1,462.7 477.1,464.7 V467.2 Z" fill="#e8f4f8" stroke="#2f5f6c" stroke-width="0.6"/>
<path d="M647,467.2 V451.1 Q647,449.6 648.5,449.6 H672.4 Q673.9,449.6 673.9,451.1 V467.2 Z" fill="#b3dbe7" stroke="#3f6f7c" stroke-width="0.9"/>
<circle cx="652.6" cy="457.0" r="1.7" fill="#fff" stroke="#3f6f7c" stroke-width="0.6"/>
<circle cx="668.3" cy="457.0" r="1.7" fill="#fff" stroke="#3f6f7c" stroke-width="0.6"/>
<path d="M652.45,467.2 L654.45,464.7 L656.45,467.2 Z M668.45,467.2 L666.45,464.7 L664.45,467.2 Z" fill="#2f5f6c"/>
<path d="M657.45,467.2 V464.7 Q660.45,462.7 663.45,464.7 V467.2 Z" fill="#e8f4f8" stroke="#2f5f6c" stroke-width="0.6"/>
<clipPath id="rr0"><path d="M420.5,467.2 H564.6 Q561.7,477.2 560.8,487.2 H420.5 Q420.5,477.2 420.5,467.2 Z"/></clipPath>
<g clip-path="url(#rr0)">
<rect x="418.5" y="467.2" width="148.10000000000002" height="20" fill="#e4e4e6"/>
<rect x="418.5" y="470.4" width="148.10000000000002" height="13.6" fill="#b9b9bd"/>
<line x1="418.5" y1="470.4" x2="566.6" y2="470.4" stroke="#6a6a6a" stroke-width="0.9"/>
<line x1="418.5" y1="484.0" x2="566.6" y2="484.0" stroke="#6a6a6a" stroke-width="0.9"/>
</g>
<path d="M420.5,467.2 H564.6 Q561.7,477.2 560.8,487.2 H420.5 Q420.5,477.2 420.5,467.2 Z" fill="none" stroke="#5f5f5f" stroke-width="1"/>
<clipPath id="rr1"><path d="M569.1,467.2 H713.9 Q713.9,477.2 713.9,487.2 H565.2 Q566.1500000000001,477.2 569.1,467.2 Z"/></clipPath>
<g clip-path="url(#rr1)">
<rect x="563.2" y="467.2" width="152.69999999999993" height="20" fill="#e4e4e6"/>
<rect x="563.2" y="470.4" width="152.69999999999993" height="13.6" fill="#b9b9bd"/>
<line x1="563.2" y1="470.4" x2="715.9" y2="470.4" stroke="#6a6a6a" stroke-width="0.9"/>
<line x1="563.2" y1="484.0" x2="715.9" y2="484.0" stroke="#6a6a6a" stroke-width="0.9"/>
</g>
<path d="M569.1,467.2 H713.9 Q713.9,477.2 713.9,487.2 H565.2 Q566.1500000000001,477.2 569.1,467.2 Z" fill="none" stroke="#5f5f5f" stroke-width="1"/>
<g transform="translate(420.5,467.2)">
<rect x="0.3" y="3.2" width="8.8" height="13.6" fill="#cfcfd2"/>
<line x1="9.2" y1="3.2" x2="9.2" y2="16.8" stroke="#555" stroke-width="1"/>
<rect x="10.6" y="4.3" width="19.6" height="11.7" fill="#b4d4a2" stroke="#3f663f" stroke-width="0.9"/>
<rect x="12" y="5.6" width="16.8" height="9.1" fill="#98c286" stroke="#5f8a55" stroke-width="0.5"/>
<path d="M13,7.6 H17.5 M20,7.6 H27 M13,10.2 H27.5 M13,12.8 H18 M20,12.8 H27.5" stroke="#d6ebc6" stroke-width="1.1"/>
<path d="M19,5.6 V14.7" stroke="#7ea070" stroke-width="0.6"/>
<line x1="30.9" y1="4" x2="30.9" y2="16.4" stroke="#555" stroke-width="0.9"/>
<path d="M31.4,4.2 H42 Q44,4.2 44.5,6 L47,8 V12 L44.5,14 Q44,15.8 42,15.8 H31.4 V13 H43 V7 H31.4 Z" fill="#d6d6d8" stroke="#777" stroke-width="0.6"/>
<rect x="31.4" y="7.2" width="11" height="5.6" fill="#c4c4c8"/>
</g>
<g transform="translate(713.9,467.2) scale(-1,1)">
<rect x="0.3" y="3.2" width="8.8" height="13.6" fill="#cfcfd2"/>
<line x1="9.2" y1="3.2" x2="9.2" y2="16.8" stroke="#555" stroke-width="1"/>
<rect x="10.6" y="4.3" width="19.6" height="11.7" fill="#b4d4a2" stroke="#3f663f" stroke-width="0.9"/>
<rect x="12" y="5.6" width="16.8" height="9.1" fill="#98c286" stroke="#5f8a55" stroke-width="0.5"/>
<path d="M13,7.6 H17.5 M20,7.6 H27 M13,10.2 H27.5 M13,12.8 H18 M20,12.8 H27.5" stroke="#d6ebc6" stroke-width="1.1"/>
<path d="M19,5.6 V14.7" stroke="#7ea070" stroke-width="0.6"/>
<line x1="30.9" y1="4" x2="30.9" y2="16.4" stroke="#555" stroke-width="0.9"/>
<path d="M31.4,4.2 H42 Q44,4.2 44.5,6 L47,8 V12 L44.5,14 Q44,15.8 42,15.8 H31.4 V13 H43 V7 H31.4 Z" fill="#d6d6d8" stroke="#777" stroke-width="0.6"/>
<rect x="31.4" y="7.2" width="11" height="5.6" fill="#c4c4c8"/>
</g>
<path d="M440.4,499.4 H562 Q570.0999999999999,515.25 569,531.1 H440.4 Q440.4,515.25 440.4,499.4 Z" fill="#e9d2b2" stroke="#6f6a64" stroke-width="0.9"/>
<path d="M567.2,499.4 H694.4 Q694.4,515.25 694.4,531.1 H574.2 Q575.0999999999999,515.25 567.2,499.4 Z" fill="#e9d2b2" stroke="#6f6a64" stroke-width="0.9"/>
<rect x="460.85" y="497.4" width="76" height="2" fill="#d8d8d8" stroke="#666" stroke-width="0.6"/>
<rect x="597.5" y="497.4" width="76" height="2" fill="#d8d8d8" stroke="#666" stroke-width="0.6"/>
<g transform="translate(498.85,467.2)">
<path d="M14,8.7 H28.6 a3.55,3.55 0 0 1 0,7.1 H14 Z" fill="#c3e0e8" stroke="#34606c" stroke-width="0.8"/>
<circle cx="27.7" cy="12.25" r="1.35" fill="#fff" stroke="#34606c" stroke-width="0.6"/>
<rect x="-24.6" y="9.2" width="5" height="4.4" rx="1.6" fill="#d8e8ec" stroke="#34606c" stroke-width="0.7"/>
<rect x="-7.2" y="9" width="3" height="4.6" rx="1" fill="#3f5a5a"/>
<rect x="4.6" y="9" width="3" height="4.6" rx="1" fill="#3f5a5a"/>
<rect x="-4.7" y="9.2" width="9.75" height="22" fill="#86c6d4" stroke="#27525c" stroke-width="0.8"/>
<path d="M-4.7,12 h9.75 M-4.7,14.5 h9.75 M-4.7,17 h9.75" stroke="#3f7f8c" stroke-width="0.6"/>
<rect x="-2.4" y="17.5" width="5.2" height="9" fill="#2f6470" opacity="0.55"/>
<rect x="-1.2" y="20" width="2.6" height="3" fill="#c9eef4"/>
<circle cx="-14.3" cy="10.95" r="6.9" fill="#56665c" stroke="#b3ae8c" stroke-width="0.9"/>
<circle cx="-14.3" cy="10.95" r="5.0" fill="#3c4b43" stroke="#a3b3a6" stroke-width="0.7"/>
<circle cx="-14.3" cy="10.95" r="2.6" fill="#c2e6ec" stroke="#6f9aa0" stroke-width="0.4"/>
<circle cx="14.3" cy="10.95" r="6.9" fill="#56665c" stroke="#b3ae8c" stroke-width="0.9"/>
<circle cx="14.3" cy="10.95" r="5.0" fill="#3c4b43" stroke="#a3b3a6" stroke-width="0.7"/>
<circle cx="14.3" cy="10.95" r="2.6" fill="#c2e6ec" stroke="#6f9aa0" stroke-width="0.4"/>
<path d="M-20.9,31.9 L-20.3,26.6 Q-20,25.2 -18.6,25.2 H19 Q20.4,25.2 20.6,26.6 L21,31.9 H10.4 L10,27.4 H-10.6 L-11,31.9 Z" fill="#cfe7ee" stroke="#27525c" stroke-width="0.8"/>
<path d="M-20.2,31.7 L-19.6,27.6 H-11.6 L-12,31.7 Z M20.4,31.7 L19.8,27.6 H11.4 L11.6,31.7 Z" fill="#86c8d6"/>
<rect x="-4.7" y="27.4" width="9.75" height="4.5" fill="#9fd4e0" stroke="#27525c" stroke-width="0.7"/>
</g>
<g transform="translate(635.5,467.2) scale(-1,1)">
<path d="M14,8.7 H28.6 a3.55,3.55 0 0 1 0,7.1 H14 Z" fill="#c3e0e8" stroke="#34606c" stroke-width="0.8"/>
<circle cx="27.7" cy="12.25" r="1.35" fill="#fff" stroke="#34606c" stroke-width="0.6"/>
<rect x="-24.6" y="9.2" width="5" height="4.4" rx="1.6" fill="#d8e8ec" stroke="#34606c" stroke-width="0.7"/>
<rect x="-7.2" y="9" width="3" height="4.6" rx="1" fill="#3f5a5a"/>
<rect x="4.6" y="9" width="3" height="4.6" rx="1" fill="#3f5a5a"/>
<rect x="-4.7" y="9.2" width="9.75" height="22" fill="#86c6d4" stroke="#27525c" stroke-width="0.8"/>
<path d="M-4.7,12 h9.75 M-4.7,14.5 h9.75 M-4.7,17 h9.75" stroke="#3f7f8c" stroke-width="0.6"/>
<rect x="-2.4" y="17.5" width="5.2" height="9" fill="#2f6470" opacity="0.55"/>
<rect x="-1.2" y="20" width="2.6" height="3" fill="#c9eef4"/>
<circle cx="-14.3" cy="10.95" r="6.9" fill="#56665c" stroke="#b3ae8c" stroke-width="0.9"/>
<circle cx="-14.3" cy="10.95" r="5.0" fill="#3c4b43" stroke="#a3b3a6" stroke-width="0.7"/>
<circle cx="-14.3" cy="10.95" r="2.6" fill="#c2e6ec" stroke="#6f9aa0" stroke-width="0.4"/>
<circle cx="14.3" cy="10.95" r="6.9" fill="#56665c" stroke="#b3ae8c" stroke-width="0.9"/>
<circle cx="14.3" cy="10.95" r="5.0" fill="#3c4b43" stroke="#a3b3a6" stroke-width="0.7"/>
<circle cx="14.3" cy="10.95" r="2.6" fill="#c2e6ec" stroke="#6f9aa0" stroke-width="0.4"/>
<path d="M-20.9,31.9 L-20.3,26.6 Q-20,25.2 -18.6,25.2 H19 Q20.4,25.2 20.6,26.6 L21,31.9 H10.4 L10,27.4 H-10.6 L-11,31.9 Z" fill="#cfe7ee" stroke="#27525c" stroke-width="0.8"/>
<path d="M-20.2,31.7 L-19.6,27.6 H-11.6 L-12,31.7 Z M20.4,31.7 L19.8,27.6 H11.4 L11.6,31.7 Z" fill="#86c8d6"/>
<rect x="-4.7" y="27.4" width="9.75" height="4.5" fill="#9fd4e0" stroke="#27525c" stroke-width="0.7"/>
</g>
<text x="466.1" y="515.3" font-size="8.4" font-weight="bold" fill="#3a3530" textLength="21.8" lengthAdjust="spacingAndGlyphs">Min. 20</text>
<line x1="461.2" y1="503.29999999999995" x2="461.2" y2="519.6999999999999" stroke="#8a7a66" stroke-width="0.6"/>
<line x1="461.2" y1="517.9" x2="440.4" y2="517.9" stroke="#8a7a66" stroke-width="0.6"/>
<path d="M461.2,517.9 l-2.6,-0.8 v1.6z M440.4,517.9 l2.6,-0.8 v1.6z" fill="#5a4e40"/>
<text x="647.9" y="515.3" font-size="8.4" font-weight="bold" fill="#3a3530" textLength="21.8" lengthAdjust="spacingAndGlyphs">Min. 20</text>
<line x1="674" y1="503.29999999999995" x2="674" y2="519.6999999999999" stroke="#8a7a66" stroke-width="0.6"/>
<line x1="674" y1="517.9" x2="694.4" y2="517.9" stroke="#8a7a66" stroke-width="0.6"/>
<path d="M674,517.9 l2.6,-0.8 v1.6z M694.4,517.9 l-2.6,-0.8 v1.6z" fill="#5a4e40"/>
</svg>
</body></html>
